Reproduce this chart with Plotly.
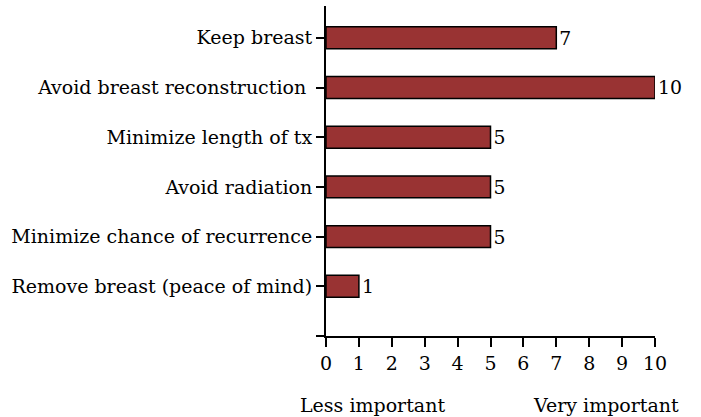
import plotly.graph_objects as go

categories = ["Keep breast", "Avoid breast reconstruction ", "Minimize length of tx",
              "Avoid radiation", "Minimize chance of recurrence", "Remove breast (peace of mind)"]
values = [7, 10, 5, 5, 5, 1]
x_ticks = list(range(0, 11))
bottom_left = "Less important"
bottom_right = "Very important"

n = len(categories)
ypos = [n - 1 - i for i in range(n)]

FONT = "DejaVu Serif"
FS = 19
fig = go.Figure()
fig.add_trace(go.Bar(
    x=values, y=ypos, orientation="h", width=0.44,
    marker=dict(color="#993333", line=dict(color="black", width=1.5)),
    text=[str(v) for v in values], textposition="outside", cliponaxis=False,
    textfont=dict(family=FONT, size=FS, color="black"),
))

L, R, T, B = 326, 46, 6, 81
PW = 701 - L - R
PH = 417 - T - B

fig.update_layout(
    width=701, height=417,
    margin=dict(l=L, r=R, t=T, b=B, autoexpand=False),
    paper_bgcolor="white", plot_bgcolor="white",
    showlegend=False,
    font=dict(family=FONT, size=FS, color="black"),
    xaxis=dict(range=[0, 10], tickvals=x_ticks, ticktext=[str(t) for t in x_ticks],
               automargin=False,
               showgrid=False, zeroline=False, showline=True, linecolor="black", linewidth=2,
               ticks="outside", ticklen=9, tickwidth=2, tickcolor="black"),
    yaxis=dict(range=[-1, 5.64], tickvals=[-1] + ypos, ticktext=[""] + categories,
               automargin=False,
               showgrid=False, zeroline=False, showline=True, linecolor="black", linewidth=2,
               ticks="outside", ticklen=8, tickwidth=2, tickcolor="black"),
)
fig.add_annotation(text=bottom_left, x=(372 - L) / PW, y=-(405 - 336) / PH,
                   xref="paper", yref="paper", xanchor="center", yanchor="middle",
                   showarrow=False, font=dict(family=FONT, size=FS))
fig.add_annotation(text=bottom_right, x=(606 - L) / PW, y=-(405 - 336) / PH,
                   xref="paper", yref="paper", xanchor="center", yanchor="middle",
                   showarrow=False, font=dict(family=FONT, size=FS))

fig.write_html("out.html", config={"displayModeBar": False},
               post_script="document.body.style.margin='0';document.body.style.overflow='hidden';")
